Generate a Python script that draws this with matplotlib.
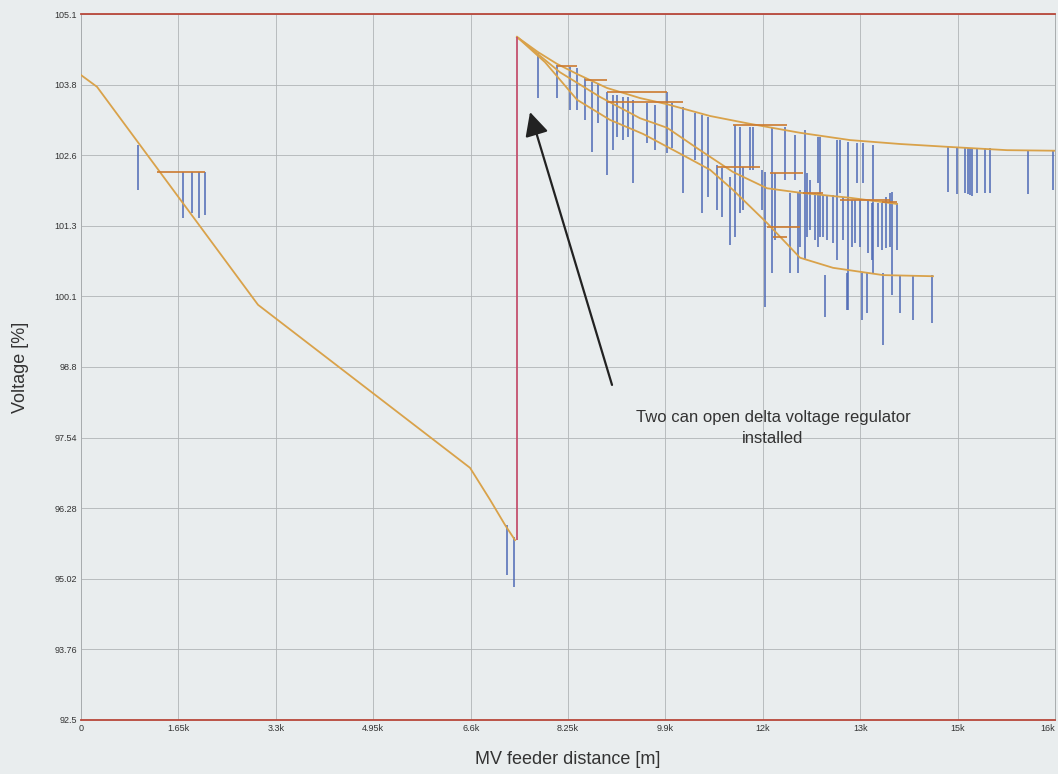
import matplotlib
matplotlib.use("Agg")
import matplotlib.pyplot as plt

plt.rcParams['font.family'] = ['Liberation Sans', 'DejaVu Sans']

# axis ticks
x_ticks = [0, 1650, 3300, 4950, 6600, 8250, 9900, 11550, 13200, 14850, 16500]
x_labels = ['0', '1.65k', '3.3k', '4.95k', '6.6k', '8.25k', '9.9k', '12k', '13k', '15k', '16k']
y_ticks = [92.5, 93.76, 95.02, 96.28, 97.54, 98.8, 100.06, 101.32, 102.58, 103.84, 105.1]
y_labels = ['92.5', '93.76', '95.02', '96.28', '97.54', '98.8', '100.1', '101.3', '102.6', '103.8', '105.1']

# main feeder up to the regulator
trunk_x = [0, 271, 2998, 6590, 6929, 7183, 7352]
trunk_v = [104.01, 103.80, 99.91, 97.00, 96.43, 95.98, 95.71]

# regulator step
reg_x = 7386
reg_v = [95.71, 104.69]

# branches after the regulator
upper_x = [7386, 7742, 8063, 8402, 8910, 9469, 9927, 10655, 11333, 12180, 13027, 13874, 14670, 15686, 16500]
upper_v = [104.69, 104.42, 104.21, 104.03, 103.78, 103.60, 103.49, 103.28, 103.14, 102.98, 102.85, 102.78, 102.73, 102.67, 102.66]
middle_x = [7386, 8114, 8792, 9469, 9927, 10486, 11045, 11621, 12180, 13027, 13823]
middle_v = [104.69, 104.06, 103.62, 103.24, 103.07, 102.67, 102.28, 101.99, 101.91, 101.82, 101.71]
lower_x = [7386, 7860, 8402, 8961, 9520, 10198, 10655, 11045, 11621, 12180, 12739, 13586, 14433]
lower_v = [104.69, 104.24, 103.57, 103.21, 102.96, 102.58, 102.32, 101.96, 101.37, 100.75, 100.57, 100.44, 100.42]

# short laterals: start, end, voltage
stub_x0 = [1287, 8063, 8538, 8910, 8910, 11045, 10774, 11672, 12231, 12857, 13569, 11621, 11722]
stub_x1 = [2101, 8402, 8910, 9927, 10198, 11960, 11502, 12231, 12569, 13705, 13823, 12180, 11960]
stub_v = [102.28, 104.17, 103.92, 103.71, 103.53, 103.12, 102.37, 102.26, 101.91, 101.78, 101.74, 101.30, 101.12]

# LV drops: position, voltage at MV node, voltage at end of LV
drop_x = [966, 1728, 1880, 1999, 2101, 7216, 7335,
          7742, 8063, 8284, 8402, 8538, 8656, 8758, 8910, 9012, 9080, 9181, 9266, 9351,
          9588, 9724, 9927, 10012, 10198, 10401, 10520, 10621, 10774, 10859, 10994, 11079,
          11163, 11214, 11333, 11384, 11536, 11587, 11706, 11756, 11926, 12011, 12095, 12146,
          12180, 12265, 12298, 12349, 12434, 12485, 12485, 12519, 12569, 12603, 12637, 12739,
          12807, 12857, 12908, 12976, 12993, 13061, 13112, 13145, 13196, 13230, 13247, 13315,
          13332, 13400, 13416, 13501, 13569, 13586, 13637, 13705, 13738, 13823, 13874, 14094,
          14416, 14687, 14839, 14975, 15026, 15060, 15093, 15178, 15314, 15398, 16042, 16466]
drop_top = [102.76, 102.28, 102.28, 102.28, 102.28, 95.98, 95.77,
            104.40, 104.19, 104.15, 104.14, 103.96, 103.89, 103.87, 103.71, 103.65, 103.65, 103.62, 103.62, 103.57,
            103.51, 103.48, 103.71, 103.51, 103.44, 103.33, 103.30, 103.26, 102.41, 102.35, 102.19, 103.12,
            103.08, 102.37, 103.08, 103.08, 102.32, 102.28, 103.08, 102.26, 103.08, 101.91, 102.94, 101.91,
            101.96, 103.03, 102.26, 102.14, 101.91, 102.90, 101.91, 102.90, 101.87, 100.44, 101.87, 101.87,
            102.85, 102.85, 101.83, 100.48, 102.82, 101.78, 101.78, 102.80, 101.78, 100.48, 102.80, 100.48,
            101.78, 101.73, 102.76, 101.73, 101.73, 100.48, 101.83, 101.91, 101.92, 101.73, 100.44, 100.44,
            100.44, 102.73, 102.73, 102.71, 102.71, 102.71, 102.71, 102.71, 102.71, 102.71, 102.67, 102.66]
drop_bot = [101.96, 101.46, 101.55, 101.46, 101.51, 95.09, 94.87,
            103.60, 103.60, 103.39, 103.39, 103.21, 102.64, 103.15, 102.23, 102.67, 102.90, 102.85, 102.90, 102.08,
            102.80, 102.67, 102.62, 102.71, 101.91, 102.49, 101.55, 101.83, 101.60, 101.48, 100.98, 101.12,
            101.55, 101.60, 102.32, 102.32, 101.60, 99.87, 100.48, 101.07, 102.14, 100.48, 102.14, 100.48,
            100.94, 100.71, 101.12, 101.25, 101.07, 102.08, 100.94, 101.12, 101.12, 99.69, 101.07, 101.01,
            100.71, 101.91, 101.07, 99.82, 99.82, 100.94, 101.01, 102.08, 100.94, 99.64, 102.08, 99.76,
            100.83, 100.71, 100.48, 100.94, 100.89, 99.19, 100.93, 100.94, 100.09, 100.89, 99.76, 99.64,
            99.59, 101.92, 101.89, 101.91, 101.89, 101.87, 101.85, 101.91, 101.91, 101.91, 101.89, 101.96]

bg = '#e9edee'
orange = '#d9a24a'
dark_orange = '#cc7a30'
blue = '#4d69b5'

fig = plt.figure(figsize=(10.58, 7.74), dpi=100, facecolor=bg)
ax = fig.add_axes([0.0766, 0.0698, 0.9206, 0.9121])
ax.set_facecolor(bg)

ax.vlines(drop_x, drop_bot, drop_top, color=blue, lw=1.1, zorder=2)

ax.plot(trunk_x, trunk_v, color=orange, lw=1.3, zorder=3)
ax.plot(upper_x, upper_v, color=orange, lw=1.3, zorder=3)
ax.plot(middle_x, middle_v, color=orange, lw=1.3, zorder=3)
ax.plot(lower_x, lower_v, color=orange, lw=1.3, zorder=3)
ax.hlines(stub_v, stub_x0, stub_x1, color=dark_orange, lw=1.2, zorder=3)
ax.vlines(reg_x, reg_v[0], reg_v[1], color='#c4506e', lw=1.3, zorder=4)

ax.set_xlim(0, 16500)
ax.set_ylim(92.5, 105.1)
ax.set_xticks(x_ticks)
ax.set_xticklabels(x_labels)
ax.set_yticks(y_ticks)
ax.set_yticklabels(y_labels)
ax.tick_params(labelsize=6.5, colors='#333333', length=0, pad=3)
ax.get_xticklabels()[-1].set_horizontalalignment('right')
ax.grid(True, color='#b0b4b6', lw=0.6)
ax.set_axisbelow(True)

for side in ['left', 'right']:
    ax.spines[side].set_color('#a8acae')
    ax.spines[side].set_linewidth(0.7)
for side in ['top', 'bottom']:
    ax.spines[side].set_color('#b8473a')
    ax.spines[side].set_linewidth(1.3)

ax.set_xlabel('MV feeder distance [m]', fontsize=13, color='#333333', labelpad=13)
ax.set_ylabel('Voltage [%]', fontsize=13, color='#333333', labelpad=18)

ax.annotate('', xy=(7606, 103.35), xytext=(8995, 98.48),
            arrowprops=dict(arrowstyle='-|>', color='#222222', lw=1.6,
                            mutation_scale=36, shrinkA=0, shrinkB=0), zorder=5)
ax.text(11723, 97.71, 'Two can open delta voltage regulator\ninstalled',
        ha='center', va='center', fontsize=12, color='#333333', linespacing=1.45, zorder=5)

fig.savefig('out.png', dpi=100, facecolor=bg)
